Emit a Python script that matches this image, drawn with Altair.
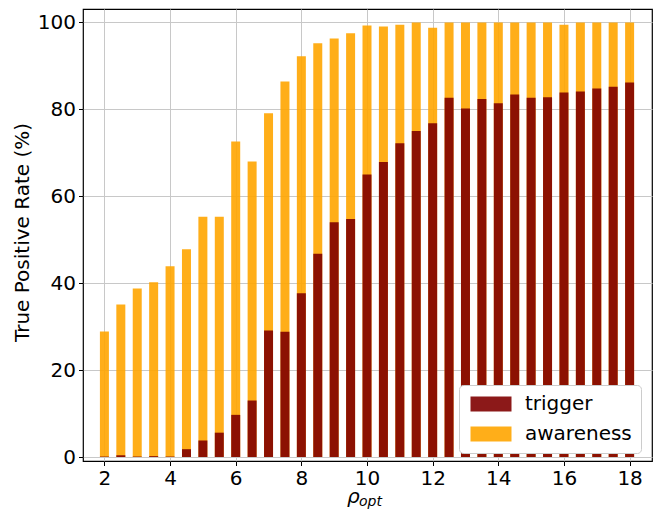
import altair as alt
import pandas as pd

rho = [2.0, 2.5, 3.0, 3.5, 4.0, 4.5, 5.0, 5.5, 6.0, 6.5, 7.0, 7.5, 8.0, 8.5, 9.0, 9.5,
       10.0, 10.5, 11.0, 11.5, 12.0, 12.5, 13.0, 13.5, 14.0, 14.5, 15.0, 15.5, 16.0,
       16.5, 17.0, 17.5, 18.0]
awareness = [28.9, 35.1, 38.8, 40.2, 43.9, 47.8, 55.3, 55.3, 72.6, 68.0, 79.1, 86.4,
             92.2, 95.2, 96.3, 97.5, 99.3, 99.1, 99.5, 100.0, 98.8, 100.0, 100.0, 100.0,
             100.0, 100.0, 100.0, 100.0, 99.5, 100.0, 100.0, 100.0, 100.0]
trigger = [0.1, 0.4, 0.1, 0.2, 0.1, 1.8, 3.8, 5.6, 9.7, 13.0, 29.1, 28.8, 37.7, 46.8,
           54.0, 54.8, 65.0, 67.9, 72.2, 75.0, 76.8, 82.7, 80.2, 82.4, 81.4, 83.4,
           82.7, 82.8, 83.9, 84.1, 84.8, 85.2, 86.2]
series = ["trigger", "awareness"]
colors = ["#800000", "#FFA500"]
x_ticks = [2, 4, 6, 8, 10, 12, 14, 16, 18]
y_ticks = [0, 20, 40, 60, 80, 100]

rows = []
for r, a in zip(rho, awareness):
    rows.append({"rho": r, "series": "awareness", "value": a})
for r, t in zip(rho, trigger):
    rows.append({"rho": r, "series": "trigger", "value": t})
df = pd.DataFrame(rows)

FONT = "DejaVu Sans"
W, H = 569, 452

bars = alt.Chart(df).mark_bar(size=9, opacity=0.9).encode(
    x=alt.X("rho:Q",
            scale=alt.Scale(domain=[1.5, 18.53], nice=False, zero=False),
            axis=alt.Axis(values=x_ticks, title=None, format="d")),
    y=alt.Y("value:Q", stack=None,
            scale=alt.Scale(domain=[-0.92, 103.1], nice=False, zero=False),
            axis=alt.Axis(values=y_ticks, title="True Positive Rate (%)",
                          titleAngle=-90, titleX=-55, titleY=223,
                          titleAlign="center", titleBaseline="alphabetic")),
    color=alt.Color("series:N",
                    scale=alt.Scale(domain=series, range=colors),
                    legend=alt.Legend(title=None, orient="none",
                                      legendX=376, legendY=376)),
    order=alt.Order("ord:Q"),
).transform_calculate(ord="datum.series === 'awareness' ? 0 : 1")

rho_txt = alt.Chart(pd.DataFrame({"t": ["ρ"]})).mark_text(
    font=FONT, fontSize=20, fontStyle="italic", align="left", baseline="alphabetic",
    color="black").encode(text="t:N", x=alt.value(264), y=alt.value(494))
opt_txt = alt.Chart(pd.DataFrame({"t": ["opt"]})).mark_text(
    font=FONT, fontSize=14, fontStyle="italic", align="left", baseline="alphabetic",
    color="black").encode(text="t:N", x=alt.value(276), y=alt.value(497))

chart = alt.layer(bars, rho_txt, opt_txt).properties(
    width=W, height=H,
    autosize=alt.AutoSizeParams(type="none"),
    padding={"left": 83, "top": 9, "right": 10, "bottom": 49},
).configure_view(
    stroke="black", strokeWidth=1.2
).configure_axis(
    labelFont=FONT, labelFontSize=20, labelColor="black",
    titleFont=FONT, titleFontSize=20, titleColor="black", titleFontWeight="normal",
    grid=True, gridColor="#c8c8c8", gridWidth=1,
    domain=False, ticks=True, tickColor="black", tickSize=4.5, tickWidth=1,
    labelPadding=3,
).configure_legend(
    labelFont=FONT, labelFontSize=20, labelColor="black",
    symbolType="M-1,-1L4.467,-1L4.467,1L-1,1Z", symbolSize=225,
    symbolStrokeWidth=0, symbolOpacity=0.9,
    labelOffset=37, rowPadding=10, padding=9,
    fillColor="white", strokeColor="#cccccc", cornerRadius=4,
)

chart.save("out.html", embed_options={"renderer": "svg", "actions": False})
